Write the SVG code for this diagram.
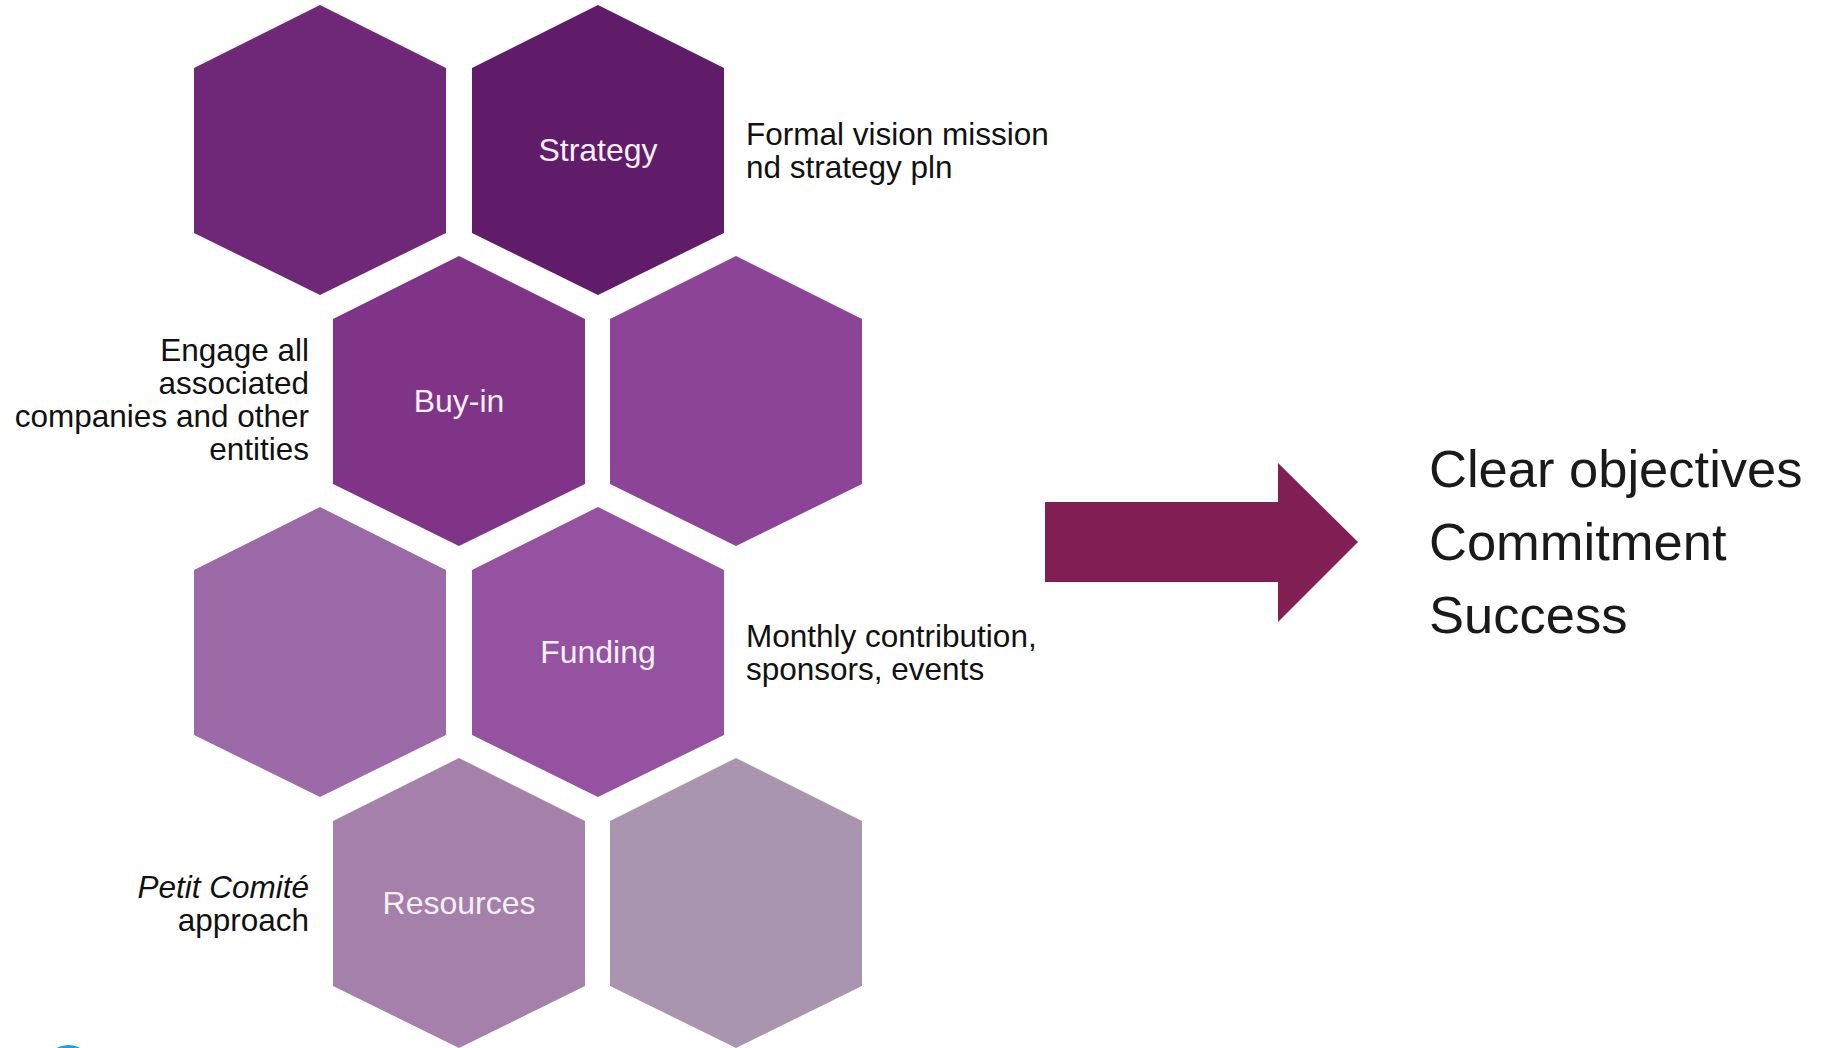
<svg xmlns="http://www.w3.org/2000/svg" width="1822" height="1048" viewBox="0 0 1822 1048">
<defs>
<style>
.lbl{font-family:"Liberation Sans",Arial,sans-serif;font-size:32px;fill:#F4F0F5;text-anchor:middle}
.note{font-family:"Liberation Sans",Arial,sans-serif;font-size:31.5px;fill:#111}
.r{text-anchor:end}
.big{font-family:"Liberation Sans",Arial,sans-serif;font-size:52.5px;fill:#1a1a1a}
</style>
<polygon id="hex" points="0,-145 126,-82 126,83 0,145 -126,83 -126,-82"/>
</defs>
<rect width="1822" height="1048" fill="#fff"/>
<g id="hex1"><use href="#hex" x="320" y="150" fill="#6F2878"/></g>
<g id="strategy"><use href="#hex" x="598" y="150" fill="#611C69"/><text class="lbl" x="598" y="161">Strategy</text></g>
<g id="buyin"><use href="#hex" x="459" y="401" fill="#803487"/><text class="lbl" x="459" y="412">Buy-in</text></g>
<g id="hex4"><use href="#hex" x="736" y="401" fill="#8C4596"/></g>
<g id="hex5"><use href="#hex" x="320" y="652" fill="#9D6AA8"/></g>
<g id="funding"><use href="#hex" x="598" y="652" fill="#9452A0"/><text class="lbl" x="598" y="663">Funding</text></g>
<g id="resources"><use href="#hex" x="459" y="903" fill="#A480AB"/><text class="lbl" x="459" y="914">Resources</text></g>
<g id="hex8"><use href="#hex" x="736" y="903" fill="#AA95B0"/></g>
<g id="notes">
<text class="note" x="746"><tspan x="746" y="145">Formal vision mission</tspan><tspan x="746" y="178">nd strategy pln</tspan></text>
<text class="note r" x="309"><tspan x="309" y="361">Engage all</tspan><tspan x="309" y="394">associated</tspan><tspan x="309" y="427">companies and other</tspan><tspan x="309" y="460">entities</tspan></text>
<text class="note" x="746"><tspan x="746" y="647">Monthly contribution,</tspan><tspan x="746" y="680">sponsors, events</tspan></text>
<text class="note r" x="309"><tspan x="309" y="898" font-style="italic">Petit Comité</tspan><tspan x="309" y="931">approach</tspan></text>
</g>
<g id="connectors">
<polygon points="1045,502 1278,502 1278,463 1358,542 1278,622 1278,582 1045,582" fill="#811E54"/>
</g>
<g id="outcome">
<text class="big"><tspan x="1429" y="487">Clear objectives</tspan><tspan x="1429" y="560">Commitment</tspan><tspan x="1429" y="633">Success</tspan></text>
</g>
<circle cx="68.5" cy="1068.5" r="23.5" fill="#1BA1E2"/>
</svg>
